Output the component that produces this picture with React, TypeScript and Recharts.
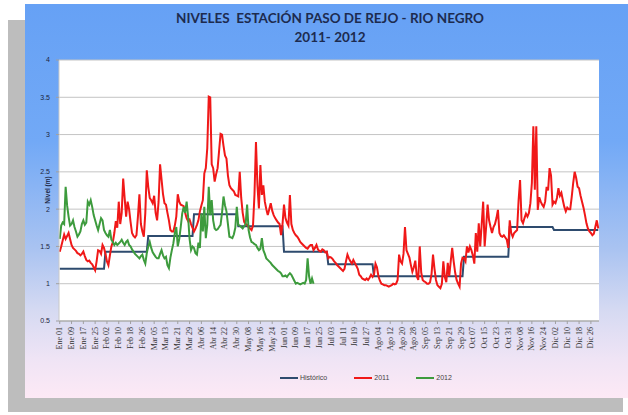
import React from 'react';
import { LineChart, Line, XAxis, YAxis, CartesianGrid, Legend } from 'recharts';

// dias por mes (eje de un año bisiesto, como en la planilla original)
const MONTH_DAYS = [31, 29, 31, 30, 31, 30, 31, 31, 30, 31, 30, 31];

// etiquetas del eje X, una cada 8 dias
const TICK_LABELS = [
  'Ene 01', 'Ene 09', 'Ene 17', 'Ene 25', 'Feb 02', 'Feb 10', 'Feb 18', 'Feb 26',
  'Mar 05', 'Mar 13', 'Mar 21', 'Mar 29', 'Abr 06', 'Abr 14', 'Abr 22', 'Abr 30',
  'May 08', 'May 16', 'May 24', 'Jun 01', 'Jun 09', 'Jun 17', 'Jun 25', 'Jul 03',
  'Jul 11', 'Jul 19', 'Jul 27', 'Ago 04', 'Ago 12', 'Ago 20', 'Ago 28', 'Sep 05',
  'Sep 13', 'Sep 21', 'Sep 29', 'Oct 07', 'Oct 15', 'Oct 23', 'Oct 31', 'Nov 08',
  'Nov 16', 'Nov 24', 'Dic 02', 'Dic 10', 'Dic 18', 'Dic 26',
];

const Y_TICKS = [0.5, 1, 1.5, 2, 2.5, 3, 3.5, 4];

const SERIES_ORDER = ['Histórico', '2011', '2012'];

// promedio historico mensual (m)
const HISTORICO = [1.2, 1.43, 1.64, 1.93, 1.77, 1.43, 1.26, 1.1, 1.1, 1.36, 1.76, 1.72];

// niveles diarios 2011 (m)
const N2011_ENE = [1.43, 1.5, 1.58, 1.66, 1.6, 1.64, 1.68, 1.6, 1.52, 1.48, 1.46, 1.44, 1.41, 1.4, 1.38, 1.4, 1.43, 1.37, 1.32, 1.3, 1.31, 1.28, 1.26, 1.22, 1.18, 1.3, 1.45, 1.44, 1.4, 1.52, 1.48];
const N2011_FEB = [1.4, 1.3, 1.25, 1.38, 1.5, 1.56, 1.68, 1.84, 1.75, 2.1, 1.8, 1.95, 2.41, 2.15, 1.9, 2.1, 2.0, 1.83, 1.68, 1.64, 1.62, 1.65, 1.9, 2.2, 1.8, 1.7, 1.63, 1.95, 2.52];
const N2011_MAR = [2.3, 2.15, 2.12, 2.08, 2.18, 1.95, 1.85, 2.1, 2.6, 2.4, 2.2, 2.08, 2.06, 1.95, 1.85, 1.72, 1.7, 1.7, 1.78, 1.9, 2.2, 2.1, 2.06, 2.05, 2.04, 1.95, 1.88, 1.84, 1.86, 1.8, 1.75];
const N2011_ABR = [1.7, 1.74, 1.79, 1.85, 1.97, 2.05, 2.12, 2.48, 2.55, 2.82, 3.51, 3.5, 2.6, 2.55, 2.37, 2.47, 2.55, 2.78, 3.01, 3.0, 2.85, 2.72, 2.68, 2.45, 2.32, 2.28, 2.26, 2.24, 2.19, 2.18];
const N2011_MAY = [2.17, 2.5, 2.15, 1.95, 1.83, 1.8, 1.79, 1.76, 1.74, 1.72, 1.78, 2.2, 2.9, 2.32, 2.01, 2.59, 2.19, 2.32, 2.1, 2.0, 1.92, 2.0, 2.08, 1.98, 1.92, 1.88, 1.85, 1.82, 1.8, 1.65, 1.8];
const N2011_JUN = [2.06, 1.88, 1.82, 1.78, 2.19, 1.8, 1.72, 1.68, 1.65, 1.63, 1.6, 1.56, 1.54, 1.52, 1.5, 1.48, 1.47, 1.5, 1.52, 1.52, 1.45, 1.48, 1.52, 1.46, 1.44, 1.43, 1.46, 1.45, 1.42, 1.43];
const N2011_JUL = [1.34, 1.36, 1.35, 1.33, 1.3, 1.28, 1.25, 1.23, 1.21, 1.19, 1.17, 1.2, 1.3, 1.39, 1.34, 1.3, 1.27, 1.32, 1.28, 1.24, 1.2, 1.12, 1.1, 1.07, 1.06, 1.05, 1.07, 1.05, 1.08, 1.12, 1.09];
const N2011_AGO = [1.12, 1.27, 1.22, 1.1, 1.04, 1.0, 0.99, 0.98, 0.98, 0.97, 0.96, 0.97, 0.98, 1.0, 0.99, 1.0, 1.05, 1.39, 1.3, 1.27, 1.4, 1.76, 1.45, 1.4, 1.35, 1.25, 1.16, 1.22, 1.31, 1.1, 1.05];
const N2011_SEP = [1.5, 1.15, 1.05, 1.03, 1.02, 1.0, 1.0, 1.02, 1.13, 1.39, 1.2, 1.05, 0.98, 0.96, 0.94, 1.0, 1.3, 1.09, 1.02, 1.28, 1.1, 1.3, 1.48, 1.3, 1.15, 1.05, 1.0, 0.96, 1.27, 1.35];
const N2011_OCT = [1.34, 1.3, 1.5, 1.42, 1.5, 1.45, 1.38, 1.27, 1.68, 1.43, 1.81, 1.5, 1.8, 2.1, 1.5, 1.76, 2.06, 1.85, 1.76, 1.68, 1.76, 1.8, 1.88, 1.99, 1.68, 1.64, 1.63, 1.65, 1.62, 1.59, 1.48];
const N2011_NOV = [1.85, 1.68, 1.63, 1.68, 1.7, 1.72, 2.12, 2.39, 1.85, 1.81, 1.88, 1.94, 1.9, 1.95, 2.08, 2.35, 3.11, 2.26, 3.11, 1.99, 2.16, 2.1, 2.06, 2.03, 2.1, 2.3, 2.25, 2.55, 2.45, 2.06];
const N2011_DIC = [2.1, 2.08, 2.15, 2.28, 2.18, 2.22, 2.12, 2.03, 1.97, 2.02, 2.0, 2.0, 2.16, 2.35, 2.5, 2.42, 2.3, 2.28, 2.18, 2.1, 2.02, 1.92, 1.81, 1.74, 1.7, 1.68, 1.65, 1.67, 1.76, 1.85, 1.74];

// niveles diarios 2012 (m), hasta fines de junio
const N2012_ENE = [1.6, 1.78, 1.82, 1.8, 2.3, 2.05, 1.9, 1.78, 1.8, 1.85, 1.76, 1.7, 1.63, 1.66, 1.7, 1.8, 1.85, 1.79, 1.82, 2.1, 2.06, 2.12, 2.03, 1.92, 1.85, 1.78, 1.72, 1.8, 1.88, 1.85, 1.72];
const N2012_FEB = [1.68, 1.65, 1.63, 1.72, 1.59, 1.56, 1.52, 1.55, 1.52, 1.54, 1.56, 1.59, 1.55, 1.52, 1.56, 1.58, 1.52, 1.5, 1.46, 1.43, 1.4, 1.38, 1.36, 1.34, 1.37, 1.39, 1.32, 1.27, 1.41];
const N2012_MAR = [1.5, 1.56, 1.48, 1.42, 1.39, 1.36, 1.34, 1.34, 1.4, 1.45, 1.38, 1.34, 1.36, 1.25, 1.21, 1.35, 1.45, 1.54, 1.68, 1.76, 1.5, 1.6, 1.76, 1.94, 2.03, 1.95, 2.1, 1.9, 1.6, 1.45, 1.5];
const N2012_ABR = [1.48, 1.41, 1.39, 1.55, 1.48, 1.94, 1.7, 2.03, 1.61, 1.79, 2.3, 1.92, 2.12, 1.85, 1.74, 1.72, 1.73, 1.76, 1.79, 1.95, 2.17, 2.05, 1.97, 1.8, 1.63, 1.62, 1.61, 1.66, 1.75, 2.03];
const N2012_MAY = [1.79, 1.78, 1.76, 1.74, 1.77, 1.8, 2.06, 1.72, 1.62, 1.56, 1.55, 1.53, 1.52, 1.48, 1.45, 1.47, 1.61, 1.45, 1.4, 1.34, 1.32, 1.3, 1.28, 1.25, 1.23, 1.21, 1.19, 1.17, 1.16, 1.14, 1.1];
const N2012_JUN = [1.1, 1.11, 1.09, 1.12, 1.14, 1.12, 1.08, 1.04, 1.0, 1.01, 1.0, 0.99, 1.0, 1.01, 1.0, 1.05, 1.34, 1.1, 1.0, 1.07, 1.0];

const S2011 = [
  ...N2011_ENE, ...N2011_FEB, ...N2011_MAR, ...N2011_ABR, ...N2011_MAY, ...N2011_JUN,
  ...N2011_JUL, ...N2011_AGO, ...N2011_SEP, ...N2011_OCT, ...N2011_NOV, ...N2011_DIC,
];
const S2012 = [...N2012_ENE, ...N2012_FEB, ...N2012_MAR, ...N2012_ABR, ...N2012_MAY, ...N2012_JUN];

// tabla diaria: historico escalonado por mes
const data: { idx: number; hist: number; y2011: number; y2012?: number }[] = [];
MONTH_DAYS.forEach((n, m) => {
  for (let d = 0; d < n; d++) {
    const idx = data.length;
    data.push({ idx, hist: HISTORICO[m], y2011: S2011[idx], y2012: S2012[idx] });
  }
});

const TICK_IDX = TICK_LABELS.map((_, i) => i * 8);

const DayTick = ({ x, y, payload }: any) => (
  <text
    x={x}
    y={y}
    transform={`rotate(-90 ${x} ${y})`}
    textAnchor="end"
    dominantBaseline="central"
    fontSize={8}
    fontFamily="'Liberation Serif', serif"
    fill="#333"
  >
    {TICK_LABELS[Math.round(payload.value / 8)]}
  </text>
);

const LegendRow = ({ payload }: any) => {
  const items = [...(payload || [])].sort(
    (a: any, b: any) => SERIES_ORDER.indexOf(a.value) - SERIES_ORDER.indexOf(b.value),
  );
  return (
    <div style={{ display: 'flex', alignItems: 'center', fontFamily: "'Liberation Sans', sans-serif", fontSize: 7, color: '#444' }}>
      {items.map((p: any) => (
        <div key={p.value} style={{ display: 'flex', alignItems: 'center', marginRight: 27 }}>
          <span style={{ display: 'inline-block', width: 18, height: 2, background: p.color, marginRight: 2 }} />
          <span>{p.value}</span>
        </div>
      ))}
    </div>
  );
};

export default function App() {
  return (
    <div style={{ position: 'absolute', left: 0, top: 0, width: 628, height: 415, overflow: 'hidden', background: '#fff' }}>
      {/* sombra gris */}
      <div style={{ position: 'absolute', left: 8, top: 20, width: 615, height: 392, background: '#bdbdbd' }} />
      {/* panel azul */}
      <div
        style={{
          position: 'absolute', left: 25, top: 4, width: 603, height: 394,
          background: 'linear-gradient(180deg, #66a1f5 0%, #72a9f6 35%, #a9c3f1 62%, #d6daf2 78%, #efe4f5 90%, #fde9f5 100%)',
        }}
      />
      <div
        style={{
          position: 'absolute', left: 25, width: 610, top: 9, textAlign: 'center', whiteSpace: 'pre',
          fontFamily: "Lato, 'Liberation Sans', sans-serif", fontWeight: 700, fontSize: 13.5, lineHeight: '19px', color: '#1d2b4f',
        }}
      >
        {'NIVELES  ESTACIÓN PASO DE REJO - RIO NEGRO\n2011- 2012'}
      </div>
      <div style={{ position: 'absolute', left: 0, top: 0 }}>
        <LineChart width={628} height={415} data={data} margin={{ top: 60, right: 29, left: 39, bottom: 54 }}>
          <CartesianGrid vertical={false} stroke="#c4c4c4" fill="#ffffff" />
          <XAxis
            dataKey="idx"
            type="number"
            domain={[-0.5, 365.5]}
            ticks={TICK_IDX}
            interval={0}
            height={40}
            tick={<DayTick />}
            tickSize={3}
            tickMargin={3}
            tickLine={{ stroke: '#a0a0a0' }}
            axisLine={{ stroke: '#a0a0a0' }}
          />
          <YAxis
            type="number"
            domain={[0.5, 4]}
            ticks={Y_TICKS}
            width={20}
            tickSize={3}
            tickMargin={6}
            tick={{ fontSize: 7, fill: '#1b2540', fontFamily: "'Liberation Sans', sans-serif" }}
            tickLine={{ stroke: '#a0a0a0' }}
            axisLine={{ stroke: '#c8c8c8' }}
            label={() => (
              <text
                x={47}
                y={190}
                transform="rotate(-90 47 190)"
                textAnchor="middle"
                dominantBaseline="central"
                fontSize={6.5}
                fontWeight={700}
                fontFamily="'Liberation Sans', sans-serif"
                fill="#1b2540"
              >
                Nivel (m)
              </text>
            )}
          />
          <Legend
            verticalAlign="middle"
            align="center"
            layout="horizontal"
            wrapperStyle={{ left: 280, top: 374, width: 220, height: 12 }}
            content={<LegendRow />}
          />
          <Line type="linear" dataKey="hist" name="Histórico" stroke="#2e4b6e" strokeWidth={2} dot={false} isAnimationActive={false} />
          <Line type="linear" dataKey="y2011" name="2011" stroke="#f01818" strokeWidth={2} dot={false} isAnimationActive={false} />
          <Line type="linear" dataKey="y2012" name="2012" stroke="#3d9b3d" strokeWidth={2} dot={false} isAnimationActive={false} />
        </LineChart>
      </div>
    </div>
  );
}
